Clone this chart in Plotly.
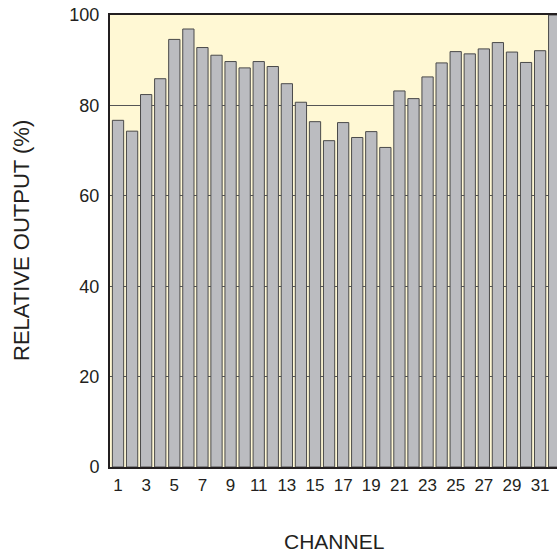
import plotly.graph_objects as go

channels = list(range(1, 33))
output = [76.7, 74.3, 82.4, 85.9, 94.6, 96.9, 92.8, 91.1, 89.7, 88.3,
          89.7, 88.6, 84.8, 80.7, 76.4, 72.2, 76.2, 72.9, 74.2, 70.7,
          83.2, 81.5, 86.3, 89.4, 91.9, 91.4, 92.5, 93.9, 91.8, 89.5,
          92.1, 100.0]
x_ticks = list(range(1, 32, 2))
y_ticks = [0, 20, 40, 60, 80, 100]

W, H = 557, 553
ML, MR, MT, MB = 110, 0, 15, 86
PW, PH = W - ML - MR, H - MT - MB


def px_to_paper(px, py):
    return (px - ML) / PW, (H - MB - py) / PH


fig = go.Figure()
fig.add_trace(go.Bar(
    x=channels, y=output, width=0.8,
    marker=dict(color="#bbbcc0", line=dict(color="#4a4a4a", width=1)),
    cliponaxis=True,
))

font_family = "Liberation Sans, Arial, sans-serif"
ytx, yty = px_to_paper(21, 241)
xtx, xty = px_to_paper(334, 541)
fig.update_layout(
    width=W, height=H,
    margin=dict(l=ML, r=MR, t=MT, b=MB),
    paper_bgcolor="white",
    plot_bgcolor="#fff8d4",
    showlegend=False,
    font=dict(family=font_family, color="#231f20"),
    xaxis=dict(
        range=[0.43, 32.2], tickvals=x_ticks, ticktext=[str(v) for v in x_ticks],
        showgrid=False, zeroline=False, showline=True, linecolor="#231f20",
        linewidth=2, mirror=True, ticks="", tickfont=dict(size=17),
        ticklabelstandoff=2,
    ),
    yaxis=dict(
        range=[0, 100], tickvals=y_ticks, showgrid=True, gridcolor="#555555",
        gridwidth=1, zeroline=False, showline=True, linecolor="#231f20",
        linewidth=2, ticks="", tickfont=dict(size=18), ticklabelstandoff=5,
        ticklabeloverflow="allow",
    ),
    annotations=[
        dict(text="RELATIVE OUTPUT (%)", x=ytx, y=yty, xref="paper", yref="paper",
             xanchor="center", yanchor="middle",
             showarrow=False, textangle=-90, font=dict(size=22)),
        dict(text="CHANNEL", x=xtx, y=xty, xref="paper", yref="paper",
             xanchor="center", yanchor="middle",
             showarrow=False, font=dict(size=21)),
    ],
)
fig.write_html(
    "out.html",
    config={"displayModeBar": False},
    post_script="document.body.style.margin='0';document.body.style.overflow='hidden';",
)
